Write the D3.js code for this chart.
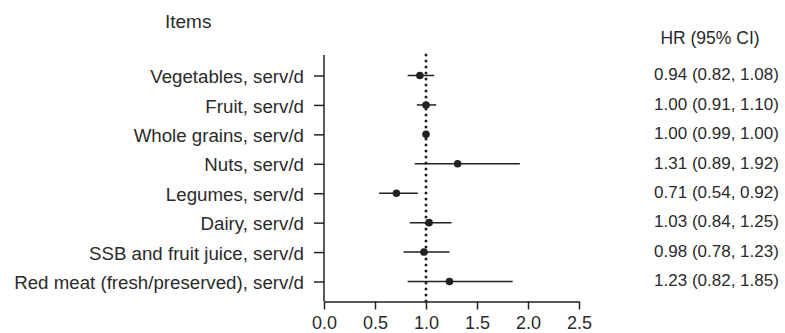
<!DOCTYPE html>
<html>
<head>
<meta charset="utf-8">
<script src="https://cdn.jsdelivr.net/npm/d3@7"></script>
<style>
   body { margin: 0; background: #fff; }
   svg text { font-family: "Liberation Sans", Arial, sans-serif; fill: #2a2a2a; }
</style>
</head>
<body>
<svg id="chart" width="785" height="333"></svg>
<script>
// ITEM LABELS
var items = [
   'Vegetables, serv/d',
   'Fruit, serv/d',
   'Whole grains, serv/d',
   'Nuts, serv/d',
   'Legumes, serv/d',
   'Dairy, serv/d',
   'SSB and fruit juice, serv/d',
   'Red meat (fresh/preserved), serv/d'
];

// HAZARD RATIOS & CONFIDENCE INTERVALS
var hr   = [0.94, 1.00, 1.00, 1.31, 0.71, 1.03, 0.98, 1.23];
var low  = [0.82, 0.91, 0.99, 0.89, 0.54, 0.84, 0.78, 0.82];
var high = [1.08, 1.10, 1.00, 1.92, 0.92, 1.25, 1.23, 1.85];

// LABEL TEXT FOR RIGHT COLUMN
var hrText = [
   '0.94 (0.82, 1.08)',
   '1.00 (0.91, 1.10)',
   '1.00 (0.99, 1.00)',
   '1.31 (0.89, 1.92)',
   '0.71 (0.54, 0.92)',
   '1.03 (0.84, 1.25)',
   '0.98 (0.78, 1.23)',
   '1.23 (0.82, 1.85)'
];

// X TICKS
var xTicks = [0, 0.5, 1, 1.5, 2, 2.5];

// CANVAS
var svg = d3.select('#chart');
var ink = '#222';
var font = '"Liberation Sans", Arial, sans-serif';

// X-SCALING
var xScale = d3.scaleLinear()
   .domain([0, 2.5])
   .range([324, 579]);

// Y-SCALING -- ONE POSITION PER ITEM
var yScale = d3.scalePoint()
   .domain(items)
   .range([75.5, 281.5]);

// AXIS LINES
var axisTop = 55, axisBottom = 301.5;

// Y AXIS
var yAxis = d3.axisLeft(yScale)
   .tickSize(10)
   .tickPadding(10);

var gy = svg.append('g')
   .attr('transform', 'translate(' + xScale(0) + ',0)')
   .call(yAxis);

gy.select('.domain').remove();
gy.append('line')
   .attr('x1', 0).attr('x2', 0)
   .attr('y1', axisTop).attr('y2', axisBottom)
   .attr('stroke', ink).attr('stroke-width', 1.5);
gy.selectAll('.tick line').attr('stroke', ink).attr('stroke-width', 1.5);
gy.selectAll('.tick text')
   .attr('font-size', 18.7)
   .attr('dy', '0.38em')
   .attr('fill', '#2a2a2a')
   .style('font-family', font);

// X AXIS
var xAxis = d3.axisBottom(xScale)
   .tickValues(xTicks)
   .tickFormat(d3.format('.1f'))
   .tickSize(8)
   .tickPadding(7)
   .tickSizeOuter(0);

var gx = svg.append('g')
   .attr('transform', 'translate(0,' + axisBottom + ')')
   .call(xAxis);

gx.select('.domain').attr('stroke', ink).attr('stroke-width', 1.5);
gx.selectAll('.tick line').attr('stroke', ink).attr('stroke-width', 1.5);
gx.selectAll('.tick text')
   .attr('font-size', 18)
   .attr('fill', '#2a2a2a')
   .style('font-family', font);

// REFERENCE LINE AT HR = 1
svg.append('line')
   .attr('x1', xScale(1)).attr('x2', xScale(1))
   .attr('y1', axisTop).attr('y2', axisBottom)
   .attr('stroke', ink)
   .attr('stroke-width', 3)
   .attr('stroke-linecap', 'round')
   .attr('stroke-dasharray', '0,6');

// CONFIDENCE INTERVALS
svg.selectAll('line.ci')
   .data(items)
   .enter().append('line')
      .attr('class', 'ci')
      .attr('x1', (d, i) => xScale(low[i]))
      .attr('x2', (d, i) => xScale(high[i]))
      .attr('y1', d => yScale(d))
      .attr('y2', d => yScale(d))
      .attr('stroke', ink)
      .attr('stroke-width', 1.5);

// POINT ESTIMATES
svg.selectAll('circle.pt')
   .data(items)
   .enter().append('circle')
      .attr('class', 'pt')
      .attr('cx', (d, i) => xScale(hr[i]))
      .attr('cy', d => yScale(d))
      .attr('r', 3.8)
      .attr('fill', ink);

// COLUMN HEADERS
svg.append('text')
   .attr('x', 165).attr('y', 28)
   .attr('font-size', 19)
   .text('Items');

svg.append('text')
   .attr('x', 710).attr('y', 44)
   .attr('text-anchor', 'middle')
   .attr('font-size', 17.5)
   .text('HR (95% CI)');

// HR VALUES
svg.selectAll('text.hr')
   .data(items)
   .enter().append('text')
      .attr('class', 'hr')
      .attr('x', 716.5)
      .attr('y', d => yScale(d))
      .attr('dy', '0.28em')
      .attr('text-anchor', 'middle')
      .attr('font-size', 17)
      .text((d, i) => hrText[i]);
</script>
</body>
</html>
